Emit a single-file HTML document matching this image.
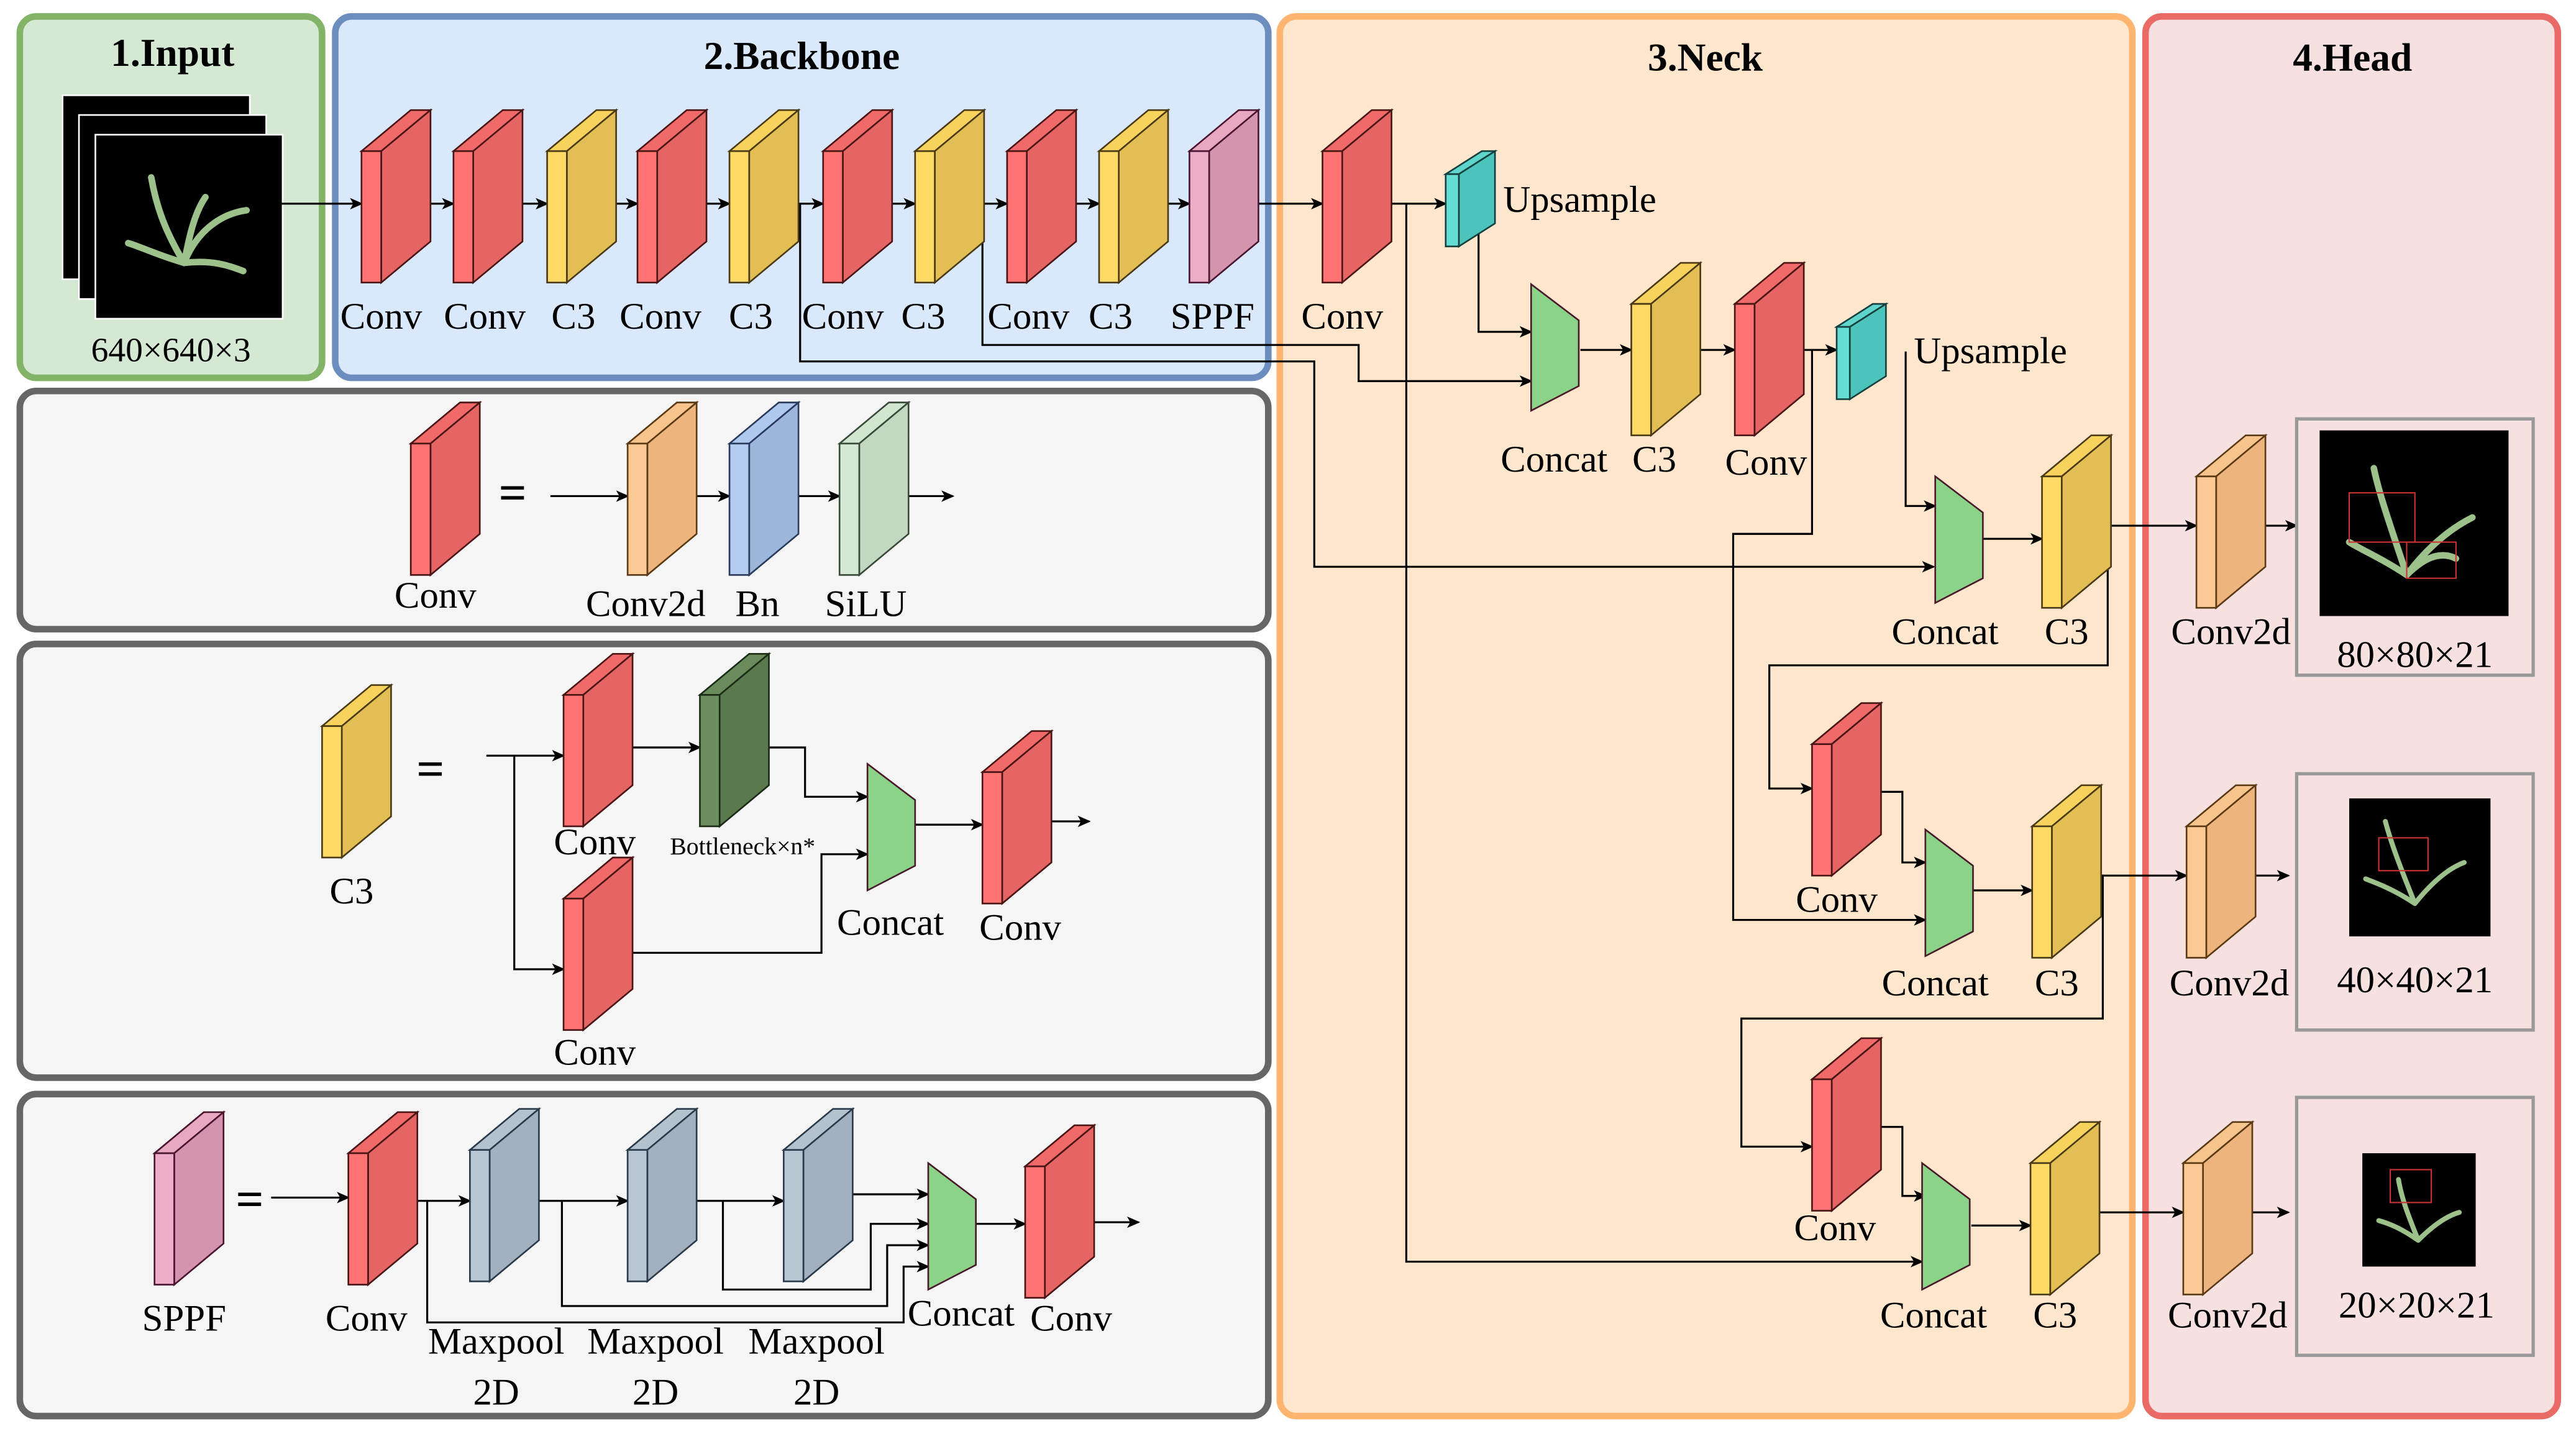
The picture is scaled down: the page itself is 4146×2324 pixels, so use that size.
<!DOCTYPE html>
<html><head><meta charset="utf-8"><style>html,body{margin:0;padding:0;background:#fff}svg{display:block}svg text{font-family:"Liberation Serif","Times New Roman",serif}</style></head><body>
<svg width="4146" height="2324" viewBox="0 0 1568 879" xmlns="http://www.w3.org/2000/svg" style="font-family:'Liberation Serif',serif">
<defs>
<marker id="ar" markerWidth="8" markerHeight="8" refX="7" refY="4" orient="auto" markerUnits="userSpaceOnUse"><path d="M0,0.5 L8,4 L0,7.5 L2,4 Z" fill="#000"/></marker>
<g id="red" stroke="#4a1515" stroke-width="1"><polygon points="0,25 30,0 42,0 12,25" fill="#F06A6A"/><polygon points="12,25 42,0 42,80 12,105" fill="#E56464"/><rect x="0" y="25" width="12" height="80" fill="#FF7373"/></g>
<g id="yel" stroke="#4a3a15" stroke-width="1"><polygon points="0,25 30,0 42,0 12,25" fill="#F7D35E"/><polygon points="12,25 42,0 42,80 12,105" fill="#E2BE55"/><rect x="0" y="25" width="12" height="80" fill="#FFD966"/></g>
<g id="pink" stroke="#4a1530" stroke-width="1"><polygon points="0,25 30,0 42,0 12,25" fill="#E8A8C0"/><polygon points="12,25 42,0 42,80 12,105" fill="#D494AD"/><rect x="0" y="25" width="12" height="80" fill="#EBAEC6"/></g>
<g id="org" stroke="#5a3a15" stroke-width="1"><polygon points="0,25 30,0 42,0 12,25" fill="#F8C48E"/><polygon points="12,25 42,0 42,80 12,105" fill="#EDB47E"/><rect x="0" y="25" width="12" height="80" fill="#FAC994"/></g>
<g id="blu" stroke="#2a3a5a" stroke-width="1"><polygon points="0,25 30,0 42,0 12,25" fill="#AFC8EE"/><polygon points="12,25 42,0 42,80 12,105" fill="#9DB6DC"/><rect x="0" y="25" width="12" height="80" fill="#B3CCF0"/></g>
<g id="lgr" stroke="#3a4a3a" stroke-width="1"><polygon points="0,25 30,0 42,0 12,25" fill="#D2E6CF"/><polygon points="12,25 42,0 42,80 12,105" fill="#C3D8C0"/><rect x="0" y="25" width="12" height="80" fill="#D5E8D4"/></g>
<g id="dgr" stroke="#1a2a15" stroke-width="1"><polygon points="0,25 30,0 42,0 12,25" fill="#6A8C5C"/><polygon points="12,25 42,0 42,80 12,105" fill="#5A7A4E"/><rect x="0" y="25" width="12" height="80" fill="#6D8F60"/></g>
<g id="gry" stroke="#2a3a4a" stroke-width="1"><polygon points="0,25 30,0 42,0 12,25" fill="#B4C2CE"/><polygon points="12,25 42,0 42,80 12,105" fill="#A3B1BF"/><rect x="0" y="25" width="12" height="80" fill="#B8C6D2"/></g>
<g id="cyn" stroke="#15403d" stroke-width="1"><polygon points="0,14 22,0 30,0 8,14" fill="#5FD5CC"/><polygon points="8,14 30,0 30,44 8,58" fill="#4CC4BB"/><rect x="0" y="14" width="8" height="44" fill="#66DDD3"/></g>
<polygon id="cat" points="0,0 29,22 29,62 0,77" fill="#8CD38A" stroke="#4a1a2a" stroke-width="1"/>
</defs>
<rect width="1568" height="879" fill="#fff"/>
<rect x="12" y="10" width="184" height="220" rx="10" fill="#D5E8D4" stroke="#82B366" stroke-width="4"/>
<rect x="204" y="10" width="568" height="220" rx="10" fill="#DAE8FC" stroke="#6C8EBF" stroke-width="4"/>
<rect x="779" y="10" width="519" height="852" rx="10" fill="#FFE6CC" stroke="#FFB570" stroke-width="4"/>
<rect x="1306" y="10" width="251" height="852" rx="10" fill="#F6E0E0" stroke="#EA6B66" stroke-width="4"/>
<rect x="12" y="238" width="760" height="145" rx="10" fill="#F5F5F5" stroke="#666" stroke-width="4"/>
<rect x="12" y="392" width="760" height="264" rx="10" fill="#F5F5F5" stroke="#666" stroke-width="4"/>
<rect x="12" y="666" width="760" height="196" rx="10" fill="#F5F5F5" stroke="#666" stroke-width="4"/>
<g font-weight="bold" font-size="24" text-anchor="middle"><text x="105" y="40">1.Input</text><text x="488" y="42">2.Backbone</text><text x="1038" y="43">3.Neck</text><text x="1432" y="43">4.Head</text></g>
<rect x="38" y="58" width="114" height="112" fill="#000" stroke="#fff" stroke-width="1"/>
<rect x="48" y="70" width="114" height="112" fill="#000" stroke="#fff" stroke-width="1"/>
<rect x="58" y="82" width="114" height="112" fill="#000" stroke="#fff" stroke-width="1"/>
<g stroke="#9CC18A" stroke-width="4" fill="none" stroke-linecap="round"><path d="M112,160 C100,140 95,125 92,108"/><path d="M112,160 C120,140 135,130 150,128"/><path d="M112,160 C95,155 85,150 78,148"/><path d="M112,160 C115,145 118,130 125,120"/><path d="M112,160 C130,158 140,162 148,165"/></g>
<text x="104" y="220" font-size="21" text-anchor="middle">640×640×3</text>
<g stroke="#000" stroke-width="1.2" fill="none" marker-end="url(#ar)">
<line x1="150" y1="124" x2="220" y2="124"/>
<line x1="242" y1="124" x2="276" y2="124"/><line x1="298" y1="124" x2="333" y2="124"/><line x1="355" y1="124" x2="388" y2="124"/><line x1="410" y1="124" x2="444" y2="124"/><line x1="466" y1="124" x2="501" y2="124"/><line x1="523" y1="124" x2="557" y2="124"/><line x1="579" y1="124" x2="613" y2="124"/><line x1="635" y1="124" x2="669" y2="124"/><line x1="691" y1="124" x2="724" y2="124"/><line x1="746" y1="124" x2="805" y2="124"/>
<line x1="827" y1="124" x2="880" y2="124"/>
<polyline points="856,124 856,768 1170,768"/>
<polyline points="900,140 900,202 932,202"/>
<polyline points="487,124 487,220 800,220 800,345 1177,345"/>
<polyline points="598,124 598,210 827,210 827,232 932,232"/>
<line x1="962" y1="213" x2="993" y2="213"/><line x1="1015" y1="213" x2="1056" y2="213"/><line x1="1078" y1="213" x2="1118" y2="213"/>
<polyline points="1103,213 1103,325 1055,325 1055,560 1172,560"/>
<polyline points="1160,214 1160,308 1178,308"/>
<line x1="1207" y1="328" x2="1243" y2="328"/>
<line x1="1265" y1="320" x2="1337" y2="320"/><line x1="1360" y1="320" x2="1398" y2="320"/>
<polyline points="1265,320 1283,320 1283,405 1077,405 1077,480 1103,480"/>
<polyline points="1125,482 1158,482 1158,525 1172,525"/>
<line x1="1200" y1="542" x2="1237" y2="542"/>
<line x1="1259" y1="533" x2="1331" y2="533"/><line x1="1353" y1="533" x2="1393" y2="533"/>
<polyline points="1259,533 1280,533 1280,620 1060,620 1060,698 1103,698"/>
<polyline points="1125,686 1158,686 1158,728 1172,728"/>
<line x1="1200" y1="746" x2="1236" y2="746"/>
<line x1="1258" y1="738" x2="1329" y2="738"/><line x1="1351" y1="738" x2="1393" y2="738"/>
<line x1="335" y1="302" x2="382" y2="302"/><line x1="404" y1="302" x2="444" y2="302"/><line x1="466" y1="302" x2="511" y2="302"/><line x1="533" y1="302" x2="580" y2="302"/>
<line x1="296" y1="460" x2="343" y2="460"/><polyline points="313,460 313,590 343,590"/>
<line x1="370" y1="455" x2="426" y2="455"/>
<polyline points="453,455 490,455 490,485 528,485"/>
<polyline points="370,580 500,580 500,520 528,520"/>
<line x1="557" y1="502" x2="598" y2="502"/><line x1="625" y1="500" x2="663" y2="500"/>
<line x1="165" y1="729" x2="212" y2="729"/>
<line x1="240" y1="731" x2="286" y2="731"/><line x1="313" y1="731" x2="382" y2="731"/><line x1="409" y1="731" x2="477" y2="731"/><line x1="505" y1="727" x2="565" y2="727"/>
<polyline points="260,731 260,805 550,805 550,771 565,771"/>
<polyline points="342,731 342,795 540,795 540,758 565,758"/>
<polyline points="440,731 440,785 530,785 530,745 565,745"/>
<line x1="594" y1="745" x2="624" y2="745"/><line x1="651" y1="744" x2="693" y2="744"/>
</g>
<use href="#red" x="220" y="67"/><use href="#red" x="276" y="67"/><use href="#yel" x="333" y="67"/><use href="#red" x="388" y="67"/><use href="#yel" x="444" y="67"/><use href="#red" x="501" y="67"/><use href="#yel" x="557" y="67"/><use href="#red" x="613" y="67"/><use href="#yel" x="669" y="67"/><use href="#pink" x="724" y="67"/>
<g font-size="23" text-anchor="middle"><text x="232" y="200">Conv</text><text x="295" y="200">Conv</text><text x="349" y="200">C3</text><text x="402" y="200">Conv</text><text x="457" y="200">C3</text><text x="513" y="200">Conv</text><text x="562" y="200">C3</text><text x="626" y="200">Conv</text><text x="676" y="200">C3</text><text x="738" y="200">SPPF</text></g>
<use href="#red" x="805" y="67"/><use href="#cyn" x="880" y="92"/>
<use href="#cat" x="932" y="173"/><use href="#yel" x="993" y="160"/><use href="#red" x="1056" y="160"/><use href="#cyn" x="1118" y="185"/>
<use href="#cat" x="1178" y="290"/><use href="#yel" x="1243" y="265"/>
<use href="#red" x="1103" y="428"/><use href="#cat" x="1172" y="505"/><use href="#yel" x="1237" y="478"/>
<use href="#red" x="1103" y="632"/><use href="#cat" x="1170" y="708"/><use href="#yel" x="1236" y="683"/>
<use href="#org" x="1337" y="265"/><use href="#org" x="1331" y="478"/><use href="#org" x="1329" y="683"/>
<g font-size="23" text-anchor="middle">
<text x="817" y="200">Conv</text><text x="946" y="287">Concat</text><text x="1007" y="287">C3</text><text x="1075" y="289">Conv</text>
<text x="1184" y="392">Concat</text><text x="1258" y="392">C3</text>
<text x="1118" y="555">Conv</text><text x="1178" y="606">Concat</text><text x="1252" y="606">C3</text>
<text x="1117" y="755">Conv</text><text x="1177" y="808">Concat</text><text x="1251" y="808">C3</text>
<text x="1358" y="392">Conv2d</text><text x="1357" y="606">Conv2d</text><text x="1356" y="808">Conv2d</text>
<text x="1470" y="406">80×80×21</text><text x="1470" y="604">40×40×21</text><text x="1471" y="802">20×20×21</text>
</g>
<g font-size="23"><text x="915" y="129">Upsample</text><text x="1165" y="221">Upsample</text></g>
<rect x="1398" y="255" width="144" height="156" fill="none" stroke="#999" stroke-width="2"/>
<rect x="1398" y="471" width="144" height="156" fill="none" stroke="#999" stroke-width="2"/>
<rect x="1398" y="668" width="144" height="157" fill="none" stroke="#999" stroke-width="2"/>
<rect x="1412" y="262" width="115" height="113" fill="#000"/>
<rect x="1430" y="486" width="86" height="84" fill="#000"/>
<rect x="1438" y="702" width="69" height="69" fill="#000"/>
<g stroke="#9CC18A" stroke-width="4" fill="none" stroke-linecap="round">
<path d="M1465,350 C1455,320 1448,300 1445,285 M1465,350 C1480,330 1495,320 1505,315 M1465,350 C1450,340 1438,335 1430,330 M1465,350 C1475,340 1485,335 1495,340"/>
</g>
<g stroke="#9CC18A" stroke-width="3" fill="none" stroke-linecap="round">
<path d="M1470,550 C1462,530 1456,515 1452,500 M1470,550 C1482,535 1492,528 1500,525 M1470,550 C1458,542 1448,538 1440,535"/>
<path d="M1472,755 C1466,740 1462,730 1460,718 M1472,755 C1482,745 1490,740 1497,738 M1472,755 C1462,748 1455,745 1448,743"/>
</g>
<g stroke="#c33" stroke-width="0.8" fill="none"><rect x="1430" y="300" width="40" height="30"/><rect x="1465" y="330" width="30" height="22"/><rect x="1448" y="510" width="30" height="20"/><rect x="1455" y="712" width="25" height="20"/></g>
<use href="#red" x="250" y="245"/><text x="312" y="310" font-size="30" font-weight="bold" text-anchor="middle">=</text>
<use href="#org" x="382" y="245"/><use href="#blu" x="444" y="245"/><use href="#lgr" x="511" y="245"/>
<g font-size="23" text-anchor="middle"><text x="265" y="370">Conv</text><text x="393" y="375">Conv2d</text><text x="461" y="375">Bn</text><text x="527" y="375">SiLU</text></g>
<use href="#yel" x="196" y="417"/><text x="262" y="478" font-size="30" font-weight="bold" text-anchor="middle">=</text>
<use href="#red" x="343" y="398"/><use href="#red" x="343" y="522"/><use href="#dgr" x="426" y="398"/>
<use href="#cat" x="528" y="465"/><use href="#red" x="598" y="445"/>
<g font-size="23" text-anchor="middle"><text x="214" y="550">C3</text><text x="362" y="520">Conv</text><text x="362" y="648">Conv</text><text x="542" y="569">Concat</text><text x="621" y="572">Conv</text></g>
<text x="452" y="520" font-size="15" text-anchor="middle">Bottleneck×n*</text>
<use href="#pink" x="94" y="677"/><text x="152" y="740" font-size="30" font-weight="bold" text-anchor="middle">=</text>
<use href="#red" x="212" y="677"/><use href="#gry" x="286" y="675"/><use href="#gry" x="382" y="675"/><use href="#gry" x="477" y="675"/>
<use href="#cat" x="565" y="708"/><use href="#red" x="624" y="685"/>
<g font-size="23" text-anchor="middle"><text x="112" y="810">SPPF</text><text x="223" y="810">Conv</text><text x="302" y="824">Maxpool</text><text x="302" y="855">2D</text><text x="399" y="824">Maxpool</text><text x="399" y="855">2D</text><text x="497" y="824">Maxpool</text><text x="497" y="855">2D</text><text x="585" y="807">Concat</text><text x="652" y="810">Conv</text></g>
</svg>
</body></html>
